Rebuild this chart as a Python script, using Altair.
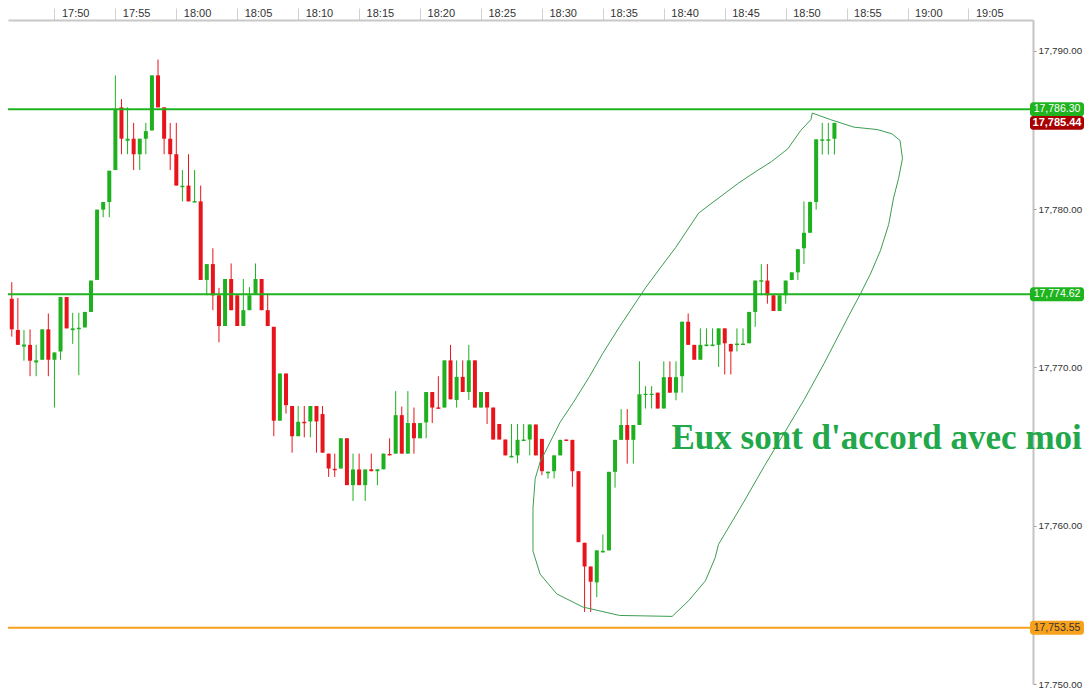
import altair as alt
import pandas as pd
import numpy as np

# ---- candle data (30-second candles starting 17:46:00) ----
start_time = "2024-01-02 17:46:00"
opens = [17771.94, 17774.33, 17772.36, 17771.31, 17771.42, 17770.31, 17770.48, 17772.40, 17770.48, 17771.00,
         17774.44, 17772.35, 17772.41, 17772.52, 17773.50, 17775.52, 17779.96, 17780.44, 17782.46, 17786.42,
         17784.31, 17784.44, 17783.46, 17784.44, 17784.96, 17788.44, 17786.42, 17784.44, 17783.46, 17781.38,
         17781.48, 17780.41, 17780.48, 17775.52, 17776.52, 17774.55, 17772.61, 17775.58, 17774.55, 17772.61,
         17773.61, 17774.65, 17775.58, 17773.61, 17772.56, 17766.63, 17769.61, 17767.56, 17765.65, 17766.56,
         17766.58, 17767.56, 17767.05, 17764.55, 17763.59, 17763.61, 17765.52, 17762.56, 17763.55, 17762.56,
         17763.56, 17763.44, 17763.56, 17764.53, 17764.55, 17766.98, 17764.55, 17766.48, 17765.52, 17766.52,
         17768.44, 17767.47, 17767.46, 17770.44, 17767.94, 17769.40, 17768.44, 17770.44, 17767.46, 17768.44,
         17767.46, 17766.42, 17765.44, 17764.31, 17764.44, 17765.35, 17765.44, 17766.39, 17765.48, 17763.31,
         17763.44, 17764.44, 17765.44, 17765.42, 17763.44, 17758.92, 17757.42, 17756.42, 17758.31, 17758.44,
         17763.40, 17765.42, 17766.36, 17765.42, 17766.36, 17768.25, 17768.25, 17768.40, 17767.40, 17769.38,
         17768.40, 17769.44, 17772.88, 17771.42, 17770.48, 17771.34, 17771.34, 17771.42, 17772.46, 17771.48,
         17771.41, 17771.41, 17771.52, 17773.50, 17775.41, 17775.48, 17774.55, 17773.56, 17774.55, 17775.52,
         17776.00, 17777.52, 17778.50, 17780.44, 17784.31, 17784.31, 17784.44]
highs = [17774.33, 17775.38, 17774.38, 17772.36, 17772.40, 17771.42, 17772.40, 17773.40, 17770.94, 17774.44,
         17774.44, 17773.44, 17773.44, 17773.50, 17775.48, 17779.96, 17780.44, 17782.42, 17788.44, 17786.94,
         17786.42, 17785.44, 17784.44, 17785.44, 17788.44, 17789.44, 17786.42, 17785.44, 17785.44, 17782.46,
         17783.46, 17782.46, 17781.48, 17776.52, 17777.52, 17775.02, 17775.58, 17776.56, 17774.55, 17775.58,
         17775.06, 17776.56, 17775.58, 17774.65, 17772.56, 17769.61, 17769.61, 17767.56, 17767.56, 17767.56,
         17767.56, 17767.56, 17767.56, 17764.55, 17764.55, 17765.52, 17765.52, 17764.55, 17764.55, 17763.55,
         17764.55, 17763.56, 17764.55, 17765.52, 17768.50, 17767.52, 17768.50, 17767.46, 17766.48, 17768.44,
         17768.44, 17769.44, 17770.44, 17771.42, 17770.44, 17770.44, 17771.42, 17770.44, 17768.44, 17768.44,
         17767.46, 17766.42, 17765.44, 17766.42, 17766.42, 17766.42, 17766.39, 17766.39, 17765.48, 17763.41,
         17764.44, 17765.42, 17765.44, 17765.42, 17763.44, 17758.92, 17757.42, 17758.44, 17759.44, 17763.40,
         17765.42, 17767.36, 17767.36, 17766.36, 17770.38, 17768.81, 17768.81, 17768.40, 17770.38, 17770.38,
         17770.38, 17772.88, 17773.40, 17771.42, 17772.46, 17772.46, 17772.46, 17772.46, 17772.46, 17771.48,
         17772.46, 17772.46, 17773.50, 17775.48, 17776.52, 17776.52, 17774.55, 17774.55, 17775.48, 17776.00,
         17777.46, 17780.48, 17780.48, 17784.40, 17785.44, 17785.44, 17785.44]
lows = [17771.42, 17771.94, 17771.42, 17770.42, 17769.44, 17769.44, 17770.48, 17769.44, 17767.46, 17770.48,
        17772.46, 17771.48, 17769.50, 17772.52, 17773.50, 17775.52, 17779.48, 17779.48, 17782.46, 17783.46,
        17783.46, 17782.46, 17782.46, 17783.46, 17784.96, 17786.42, 17783.46, 17782.46, 17781.48, 17780.48,
        17780.48, 17780.41, 17775.52, 17774.55, 17773.61, 17771.58, 17772.61, 17773.61, 17772.61, 17772.61,
        17773.61, 17774.65, 17773.61, 17772.61, 17765.65, 17766.63, 17767.08, 17764.61, 17765.65, 17765.58,
        17765.58, 17764.61, 17764.61, 17763.08, 17763.08, 17763.61, 17762.56, 17761.56, 17762.56, 17761.56,
        17763.44, 17762.56, 17763.56, 17764.44, 17764.55, 17764.55, 17764.55, 17764.55, 17765.52, 17765.52,
        17766.48, 17767.38, 17767.46, 17767.98, 17767.46, 17768.44, 17767.94, 17767.46, 17767.46, 17766.42,
        17765.44, 17765.44, 17764.44, 17764.31, 17763.94, 17765.35, 17764.44, 17764.44, 17763.19, 17762.98,
        17762.98, 17764.44, 17765.35, 17762.46, 17758.96, 17754.55, 17754.55, 17755.48, 17758.31, 17758.44,
        17762.40, 17765.42, 17763.92, 17763.92, 17766.36, 17767.40, 17767.40, 17767.40, 17767.40, 17768.40,
        17767.92, 17768.40, 17771.42, 17770.48, 17770.48, 17771.34, 17771.34, 17770.02, 17769.55, 17769.55,
        17771.00, 17771.41, 17771.52, 17772.56, 17774.55, 17774.02, 17773.56, 17773.56, 17774.02, 17775.52,
        17775.52, 17776.52, 17778.50, 17779.96, 17783.44, 17783.44, 17783.44]
closes = [17774.33, 17772.40, 17771.42, 17771.44, 17770.42, 17770.44, 17772.40, 17770.48, 17770.94, 17774.44,
          17772.46, 17772.46, 17772.50, 17773.50, 17775.48, 17779.96, 17780.44, 17782.42, 17786.31, 17784.44,
          17784.44, 17783.46, 17784.44, 17784.92, 17788.44, 17786.42, 17784.44, 17783.46, 17781.48, 17781.47,
          17780.48, 17780.50, 17775.52, 17776.52, 17774.55, 17772.61, 17775.58, 17773.61, 17772.61, 17773.61,
          17774.55, 17775.58, 17773.61, 17772.61, 17766.63, 17769.61, 17767.61, 17765.65, 17766.56, 17766.47,
          17767.56, 17766.58, 17764.61, 17763.61, 17763.50, 17765.52, 17762.56, 17763.55, 17762.56, 17763.55,
          17763.44, 17763.56, 17764.55, 17764.44, 17766.98, 17764.55, 17766.48, 17765.52, 17766.48, 17768.44,
          17767.46, 17767.38, 17770.44, 17767.98, 17769.40, 17768.44, 17770.44, 17767.46, 17768.44, 17767.46,
          17765.44, 17765.44, 17764.44, 17764.41, 17765.42, 17765.44, 17766.39, 17764.44, 17763.44, 17763.41,
          17764.44, 17765.42, 17765.35, 17763.44, 17758.96, 17757.42, 17756.46, 17758.44, 17758.41, 17763.40,
          17765.42, 17766.36, 17765.42, 17766.36, 17768.30, 17768.33, 17768.33, 17767.40, 17769.38, 17768.40,
          17769.38, 17772.88, 17771.42, 17770.48, 17771.42, 17771.44, 17771.44, 17772.46, 17771.52, 17771.00,
          17771.50, 17771.50, 17773.50, 17775.48, 17775.50, 17774.55, 17773.56, 17774.55, 17775.48, 17776.00,
          17777.46, 17778.50, 17780.44, 17784.40, 17784.40, 17784.40, 17785.44]

# ---- horizontal levels and price tags ----
level_prices = [17786.30, 17774.62, 17753.55]
level_colors = ["#1fb41f", "#1fb41f", "#f7a11c"]
current_price = 17785.44

tag_prices = [17786.30, 17785.44, 17774.62, 17753.55]
tag_fill = ["#1fb41f", "#a80000", "#1fb41f", "#f7a11c"]
tag_text_color = ["#ffffff", "#ffffff", "#ffffff", "#333333"]
tag_bold = [False, True, False, False]

# ---- hand-drawn loop (minutes after 17:46, price) ----
loop_minutes = [66.19, 67.70, 69.60, 71.50, 72.72, 73.39, 73.59, 73.26, 72.85, 72.45, 71.76, 70.95, 70.14,
                69.20, 67.16, 65.54, 63.91, 62.28, 60.52, 58.49, 58.22, 57.41, 56.05, 54.69, 50.36, 47.37,
                45.21, 43.85, 43.26, 43.26, 43.45, 43.85, 44.67, 45.48, 46.56, 47.92, 49.00, 50.36, 52.53,
                54.15, 54.97, 56.86, 60.11, 61.74, 62.82, 64.18, 65.24, 66.06, 66.19]
loop_prices = [17786.06, 17785.64, 17785.17, 17785.02, 17784.75, 17784.33, 17783.19, 17781.94, 17780.69,
               17779.02, 17777.36, 17775.89, 17774.64, 17773.29, 17770.27, 17767.98, 17765.89, 17763.81,
               17761.44, 17758.81, 17757.98, 17756.52, 17755.27, 17754.27, 17754.33, 17754.86, 17755.69,
               17756.94, 17758.39, 17761.11, 17762.98, 17764.02, 17765.27, 17766.52, 17767.77, 17769.44,
               17770.89, 17772.56, 17775.06, 17776.73, 17777.56, 17779.75, 17781.63, 17782.46, 17782.98,
               17783.81, 17784.96, 17785.64, 17786.06]

note_text = "Eux sont d'accord avec moi"
note_time = "2024-01-02T18:40:38"
note_price = 17764.86

# ---- build tables ----
t0 = pd.Timestamp(start_time)
times = pd.date_range(t0, periods=len(opens), freq="30s")
candles = pd.DataFrame({
    "t": times.strftime("%Y-%m-%dT%H:%M:%S"),
    "open": opens, "high": highs, "low": lows, "close": closes,
})
candles["dir"] = np.where(candles["close"] >= candles["open"], "up", "down")

loop = pd.DataFrame({
    "t": [(t0 + pd.to_timedelta(m, unit="min")).round("s").strftime("%Y-%m-%dT%H:%M:%S") for m in loop_minutes],
    "p": loop_prices,
    "i": list(range(len(loop_minutes))),
})

levels = pd.DataFrame({"price": level_prices, "col": level_colors})
tags = pd.DataFrame({
    "price": tag_prices,
    "label": [f"{p:,.2f}" for p in tag_prices],
    "fill": tag_fill, "tcol": tag_text_color, "bold": tag_bold,
})
tags["lo"] = tags["price"] - 0.44
tags["hi"] = tags["price"] + 0.44
note = pd.DataFrame({"t": [note_time], "p": [note_price], "txt": [note_text]})

# ---- scales & axes ----
def dt(h, m, s=0):
    return alt.DateTime(year=2024, month=1, date=2, hours=h, minutes=m, seconds=s)

x_scale = alt.Scale(domain=[dt(17, 46, 36), dt(19, 9, 53)])
y_scale = alt.Scale(domain=[17750.0, 17791.9375], nice=False, zero=False)

tick_times = []
for k in range(16):
    tot = 17 * 60 + 50 + 5 * k
    tick_times.append(dt(tot // 60, tot % 60))

x_axis = alt.Axis(orient="top", values=tick_times, format="%H:%M", title=None, grid=False,
                  tickSize=12, tickColor="#d0d0d0", domainColor="#c8c8c8", domainWidth=2,
                  labelAlign="left", labelBaseline="middle", labelPadding=-5, labelOffset=7,
                  labelFont="Liberation Sans", labelFontSize=11, labelColor="#333333",
                  labelFlush=False, labelOverlap=False)
y_axis = alt.Axis(orient="right", values=[17750, 17760, 17770, 17780, 17790], format=",.2f", title=None,
                  grid=False, tickSize=3, tickColor="#999999", domainColor="#c3c3c3", domainWidth=2,
                  labelFont="Liberation Sans", labelFontSize=9.8, labelColor="#333333", labelPadding=2,
                  labelFlush=False, labelOverlap=False)

color = alt.Color("dir:N", scale=alt.Scale(domain=["up", "down"], range=["#1eb01e", "#e8141b"]), legend=None)

base = alt.Chart(candles)
wicks = base.mark_rule(strokeWidth=1).encode(
    x=alt.X("t:T", scale=x_scale, axis=x_axis),
    y=alt.Y("low:Q", scale=y_scale, axis=y_axis),
    y2="high:Q",
    color=color,
)
bodies = base.mark_bar(width=4).encode(
    x=alt.X("t:T", scale=x_scale, axis=x_axis),
    y=alt.Y("open:Q", scale=y_scale, axis=y_axis),
    y2="close:Q",
    color=color,
)

level_rules = alt.Chart(levels).mark_rule(strokeWidth=2).encode(
    y=alt.Y("price:Q", scale=y_scale, axis=y_axis),
    color=alt.Color("col:N", scale=None),
)

loop_line = alt.Chart(loop).mark_line(strokeWidth=1, color="#3c9d52").encode(
    x=alt.X("t:T", scale=x_scale, axis=x_axis),
    y=alt.Y("p:Q", scale=y_scale, axis=y_axis),
    order="i:Q",
)

note_mark = alt.Chart(note).mark_text(align="left", baseline="alphabetic", font="Liberation Serif",
                                       fontSize=35, fontWeight="bold", color="#22a84a").encode(
    x=alt.X("t:T", scale=x_scale, axis=x_axis),
    y=alt.Y("p:Q", scale=y_scale, axis=y_axis),
    text="txt:N",
)

tag_boxes = alt.Chart(tags).mark_rect(cornerRadius=3).encode(
    x=alt.value(1022), x2=alt.value(1076),
    y=alt.Y("lo:Q", scale=y_scale, axis=y_axis), y2="hi:Q",
    fill=alt.Fill("fill:N", scale=None),
)
tag_text_plain = alt.Chart(tags).transform_filter("!datum.bold").mark_text(
    align="center", baseline="middle", font="Liberation Sans", fontSize=10.5).encode(
    x=alt.value(1049),
    y=alt.Y("price:Q", scale=y_scale, axis=y_axis),
    text="label:N",
    color=alt.Color("tcol:N", scale=None),
)
tag_text_bold = alt.Chart(tags).transform_filter("datum.bold").mark_text(
    align="center", baseline="middle", font="Liberation Sans", fontSize=11, fontWeight="bold").encode(
    x=alt.value(1049),
    y=alt.Y("price:Q", scale=y_scale, axis=y_axis),
    text="label:N",
    color=alt.Color("tcol:N", scale=None),
)

chart = alt.layer(
    wicks, bodies, level_rules, loop_line, note_mark, tag_boxes, tag_text_plain, tag_text_bold
).properties(
    width=1025, height=664,
    padding={"left": 0, "top": 12, "right": 51, "bottom": 4},
    autosize=alt.AutoSizeParams(type="none"),
    background="white",
).configure_view(stroke=None)

chart.save("out.html", embed_options={"renderer": "svg", "actions": False})
